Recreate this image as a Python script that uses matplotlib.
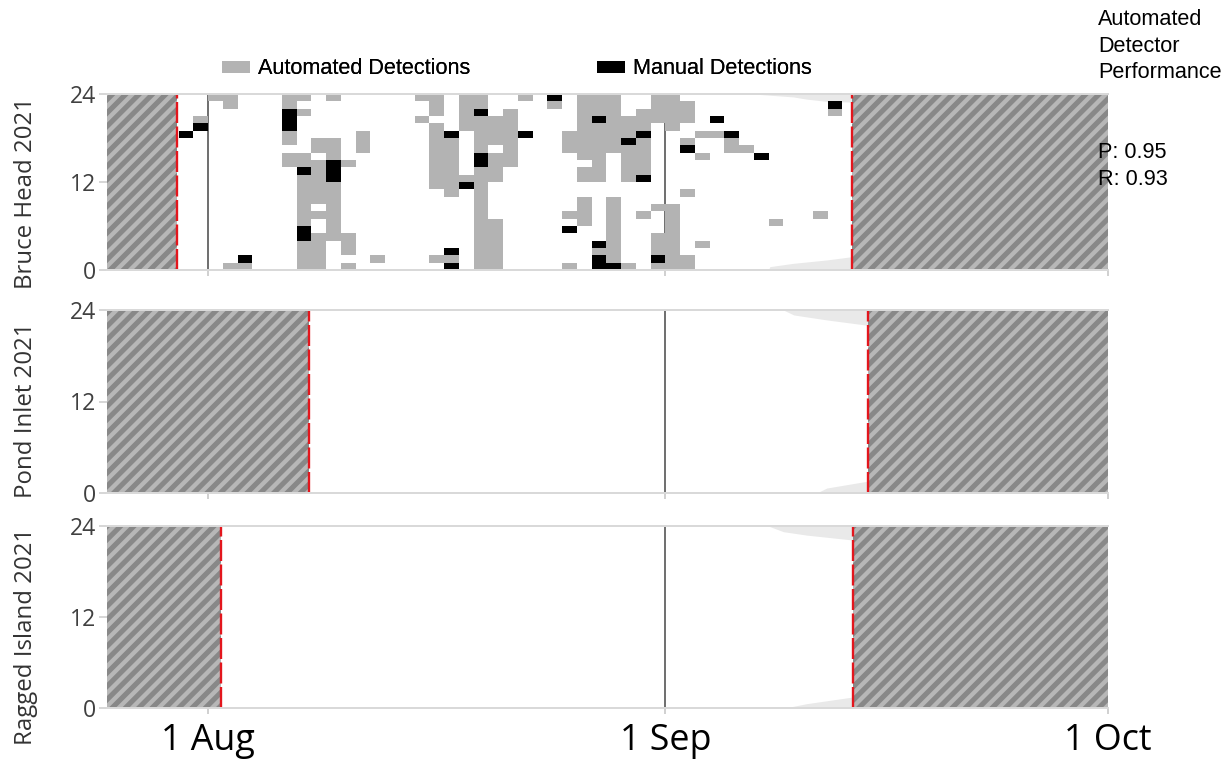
import matplotlib
matplotlib.use('Agg')
import matplotlib.pyplot as plt
from matplotlib.patches import Patch

# three recorder sites, one row each
sites = ['Bruce Head 2021', 'Pond Inlet 2021', 'Ragged Island 2021']

# recorder start / end, days since 1 Aug 2021
rec_start = [-2.12, 6.83, 0.87]
rec_end = [43.65, 44.7, 43.7]

x_min, x_max = -6.86, 61
month_days = [0, 31, 61]
month_labels = ['1 Aug', '1 Sep', '1 Oct']

# Bruce Head hourly detections: day since 1 Aug -> hours of the day
auto_days = [-1, 0, 1, 2, 5, 6, 7, 8, 9, 10, 11, 14, 15, 16, 17, 18, 19, 20, 21,
             23, 24, 25, 26, 27, 28, 29, 30, 31, 32, 33, 34, 35, 36, 38, 41, 42]
auto_hours = [
    [20],
    [23],
    [23, 22, 0],
    [0],
    [23, 22, 18, 17, 15, 14],
    [23, 21, 15, 14, 12, 11, 10, 9, 8, 7, 6, 3, 2, 1, 0],
    [17, 16, 14, 13, 12, 11, 10, 9, 7, 4, 3, 2, 1, 0],
    [23, 17, 16, 15, 11, 10, 9, 8, 7, 6, 5, 4],
    [14, 4, 3, 2, 0],
    [18, 17, 16],
    [1],
    [23, 20],
    [23, 22, 21, 19, 18, 17, 16, 15, 14, 13, 12, 11, 1],
    [17, 16, 15, 14, 13, 12, 11, 10, 1],
    [23, 22, 21, 20, 19, 12],
    [23, 22, 20, 19, 18, 17, 16, 13, 12, 11, 10, 9, 8, 7, 6, 5, 4, 3, 2, 1, 0],
    [20, 19, 18, 17, 15, 14, 13, 12, 6, 5, 4, 3, 2, 1, 0],
    [21, 20, 19, 18, 17, 16, 15, 14],
    [23],
    [22],
    [18, 17, 16, 7, 0],
    [23, 22, 21, 20, 19, 18, 17, 16, 15, 13, 12, 9, 8, 7, 6],
    [23, 22, 21, 19, 18, 17, 16, 15, 14, 13, 12, 2],
    [23, 22, 21, 20, 19, 18, 17, 16, 9, 8, 7, 6, 5, 4, 3, 2, 1],
    [20, 19, 18, 16, 15, 14, 13, 12, 0],
    [21, 20, 19, 17, 16, 15, 14, 13, 7],
    [23, 22, 21, 20, 8, 4, 3, 2, 0],
    [23, 22, 21, 20, 19, 8, 7, 6, 5, 4, 3, 2, 1, 0],
    [22, 21, 20, 17, 10, 1, 0],
    [18, 15, 3],
    [18],
    [17, 16],
    [16],
    [6],
    [7],
    [21],
]
manual_days = [-2, -1, 2, 5, 6, 8, 16, 17, 18, 21, 23, 24, 26, 27, 28, 29, 30,
               32, 34, 35, 37, 42]
manual_hours = [
    [18], [19], [1], [21, 20, 19], [13, 5, 4], [14, 13, 12], [18, 2, 0], [11],
    [21, 15, 14], [18], [23], [5], [20, 3, 1, 0], [0], [17], [18, 12], [1],
    [16], [20], [18], [15], [22],
]

# night band at each site: evening edge (from 24 h down) and morning edge (from 0 h up)
dusk_days = [[36.96, 39.67, 40.57, 41.93, 43.65],
             [38.99, 39.7, 41.93, 44.7],
             [37.97, 38.99, 40.57, 43.7]]
dusk_hours = [[24, 23.6, 23.3, 23.0, 22.9],
              [24, 23.35, 22.7, 22.0],
              [24, 23.25, 22.8, 22.15]]
dawn_days = [[37.97, 38.08, 39.67, 41.93, 43.65],
             [41.25, 41.93, 44.7],
             [39.1, 40.57, 43.7]]
dawn_hours = [[0, 0.46, 0.91, 1.37, 1.82],
              [0, 0.65, 1.55],
              [0, 0.57, 1.45]]

precision = 0.95
recall = 0.93

plt.rcParams['font.family'] = ['Open Sans', 'DejaVu Sans']
plt.rcParams['hatch.linewidth'] = 2.6

W, H = 1229, 759
fig = plt.figure(figsize=(W / 120, H / 120), dpi=120)

# axes boxes in pixels: top, bottom
rows_px = [(94, 270), (310, 493), (526, 708)]
label_y = [193, 410, 636]


def expand(days, hours):
    xs, ys = [], []
    for d, hs in zip(days, hours):
        for h in hs:
            xs.append(d)
            ys.append(h)
    return xs, ys


for i, site in enumerate(sites):
    top, bot = rows_px[i]
    ax = fig.add_axes([107 / W, 1 - bot / H, 1001 / W, (bot - top) / H])
    ax.set_xlim(x_min, x_max)
    ax.set_ylim(0, 24)

    ax.fill_between(dusk_days[i], dusk_hours[i], 24, color='#e9e9e9', lw=0, zorder=1)
    ax.fill_between(dawn_days[i], 0, dawn_hours[i], color='#e9e9e9', lw=0, zorder=1)

    for m in month_days[:2]:
        ax.axvline(m, color='#555555', lw=1.0, zorder=2)

    if i == 0:
        xs, ys = expand(auto_days, auto_hours)
        ax.bar(xs, 1, bottom=ys, width=1, align='edge', color='#b3b3b3', lw=0, zorder=3)
        xs, ys = expand(manual_days, manual_hours)
        ax.bar(xs, 1, bottom=ys, width=1, align='edge', color='black', lw=0, zorder=3)

    # no recording before start / after end
    ax.axvspan(x_min, rec_start[i], facecolor='#888888', edgecolor='#b7b7b7',
               hatch='///', lw=0, zorder=4)
    ax.axvspan(rec_end[i], x_max, facecolor='#888888', edgecolor='#b7b7b7',
               hatch='///', lw=0, zorder=4)
    for x in (rec_start[i], rec_end[i]):
        ax.axvline(x, color='#e3161d', lw=1.4, ls=(0, (9, 1.5)), zorder=5)

    for s in ('left', 'right'):
        ax.spines[s].set_visible(False)
    for s in ('top', 'bottom'):
        ax.spines[s].set_color('#d9d9d9')
        ax.spines[s].set_linewidth(1.2)
        ax.spines[s].set_zorder(6)

    ax.set_yticks([0, 12, 24])
    ax.tick_params(axis='y', length=4.8, width=1.0, color='#d0d0d0',
                   labelsize=13.8, labelcolor='#404040', pad=1.5)
    ax.set_xticks(month_days)
    ax.tick_params(axis='x', length=3.6, width=1.0, color='#c8c8c8',
                   labelsize=21.5, labelcolor='black', pad=5.5)
    if i == 2:
        ax.set_xticklabels(month_labels)
    else:
        ax.set_xticklabels([])

    fig.text(26 / W, 1 - label_y[i] / H, site, rotation=90, ha='center', va='center',
             fontsize=14.4, color='#333333')

# legend entries above the first row
leg_font = {'family': 'Liberation Sans', 'size': 13}
for colour, text, x0 in [('#b3b3b3', 'Automated Detections', 222),
                         ('black', 'Manual Detections', 597)]:
    leg = fig.legend(handles=[Patch(facecolor=colour, lw=0)], labels=[text],
                     loc='center left', bbox_to_anchor=(x0 / W, 1 - 69 / H),
                     frameon=False, borderpad=0, borderaxespad=0,
                     handlelength=1.3, handleheight=0.5, handletextpad=0.35,
                     prop=leg_font)
    fig.add_artist(leg)

fig.text(1098 / W, 1 - 9 / H, 'Automated\nDetector\nPerformance', ha='left', va='top',
         linespacing=1.35, **leg_font)
fig.text(1098 / W, 1 - 158 / H, f'P: {precision:.2f}', ha='left', va='baseline', **leg_font)
fig.text(1098 / W, 1 - 185 / H, f'R: {recall:.2f}', ha='left', va='baseline', **leg_font)

fig.savefig('out.png', dpi=120)
